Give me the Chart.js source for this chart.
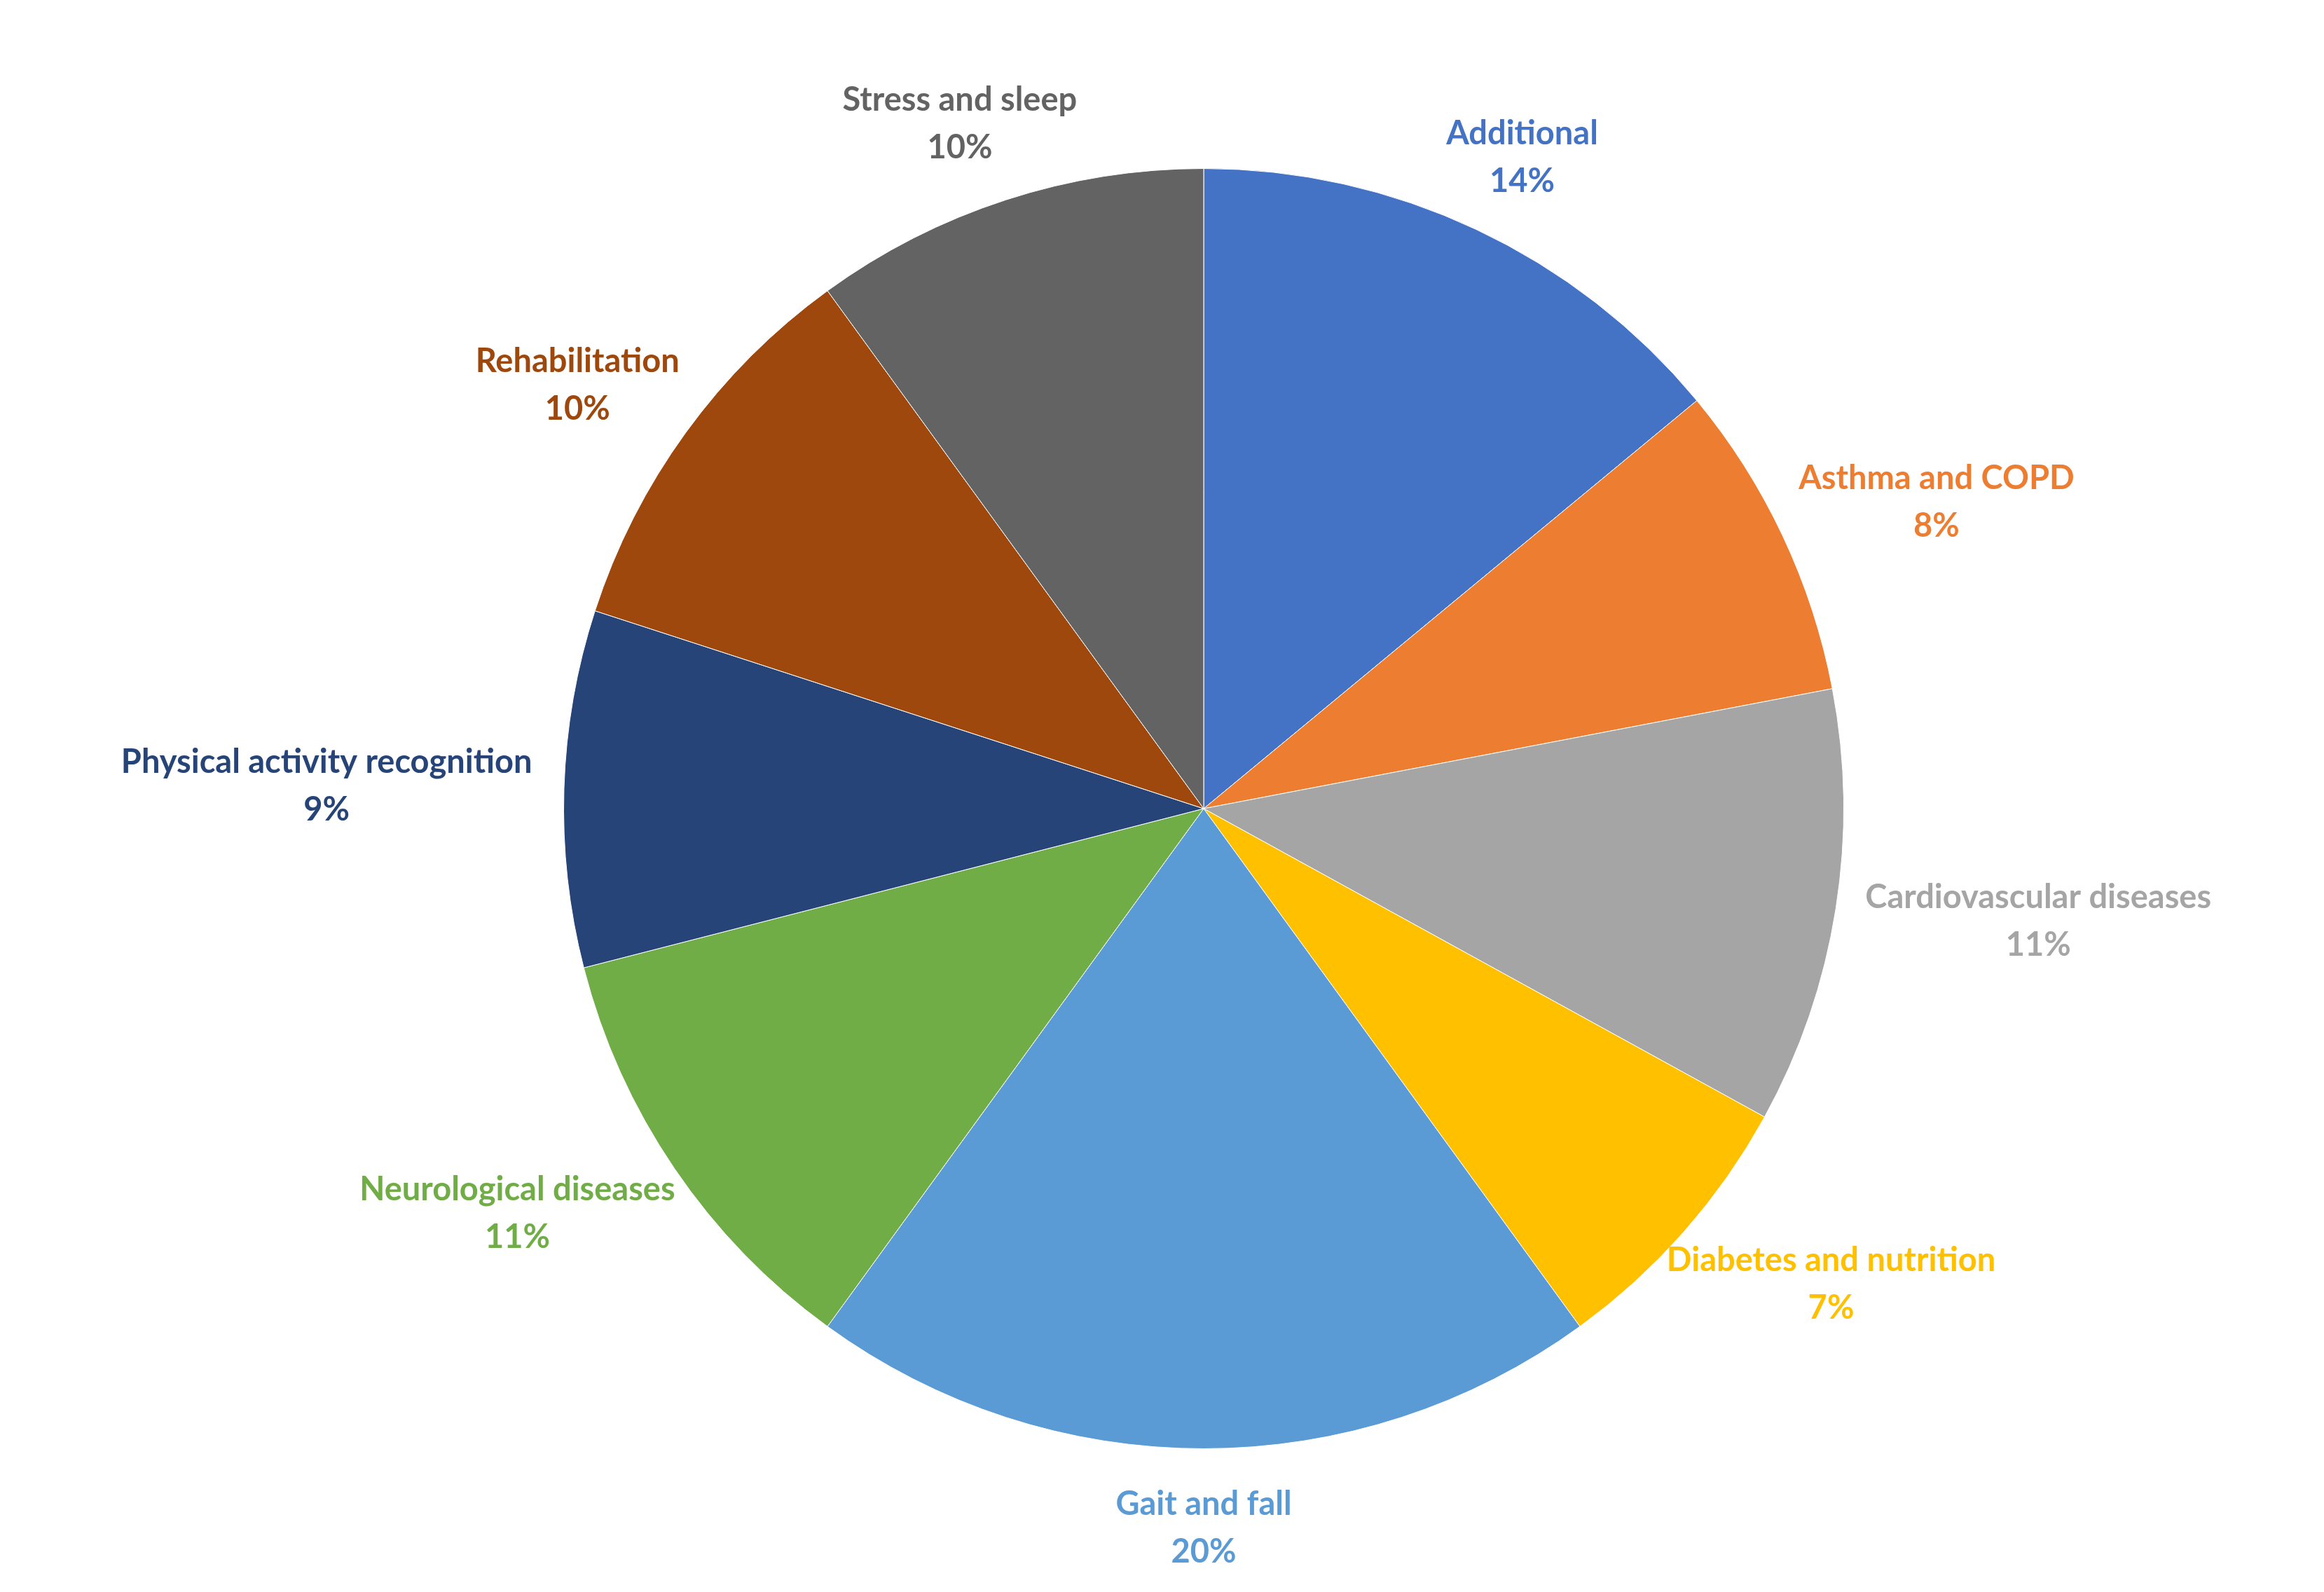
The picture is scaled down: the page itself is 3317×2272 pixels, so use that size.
<!DOCTYPE html>
<html>
<head>
<meta charset="utf-8">
<script src="https://cdn.jsdelivr.net/npm/chart.js@4"></script>
<style>
  html, body { margin: 0; padding: 0; background: #fff; }
  canvas { display: block; }
</style>
</head>
<body>
<canvas id="pie" width="3317" height="2272"></canvas>
<script>
const categories = ['Additional', 'Asthma and COPD', 'Cardiovascular diseases', 'Diabetes and nutrition',
  'Gait and fall', 'Neurological diseases', 'Physical activity recognition', 'Rehabilitation', 'Stress and sleep'];
const shares = [14, 8, 11, 7, 20, 11, 9, 10, 10];
const colors = ['#4472C4', '#ED7D31', '#A5A5A5', '#FFC000', '#5B9BD5', '#70AD47', '#264478', '#9E480E', '#636363'];

// draws "name / pct%" outside each slice, in the slice colour
const outsideLabels = {
  id: 'outsideLabels',
  afterDatasetsDraw(chart) {
    const ctx = chart.ctx;
    const arcs = chart.getDatasetMeta(0).data;
    ctx.save();
    ctx.font = 'bold 47px Lato, "Open Sans", sans-serif';
    ctx.textAlign = 'center';
    ctx.textBaseline = 'middle';
    const lineH = 68;
    arcs.forEach((arc, i) => {
      const mid = (arc.startAngle + arc.endAngle) / 2;
      const cos = Math.cos(mid), sin = Math.sin(mid);
      const r = arc.outerRadius * 1.05;
      const lines = [categories[i], shares[i] + '%'];
      const w = Math.max(...lines.map(t => ctx.measureText(t).width));
      const h = lineH * 2;
      const cx = arc.x + r * cos + cos * w / 2;
      const cy = arc.y + r * sin + sin * h / 2;
      ctx.fillStyle = colors[i];
      ctx.fillText(lines[0], cx, cy - lineH / 2);
      ctx.fillText(lines[1], cx, cy + lineH / 2);
    });
    ctx.restore();
  }
};

new Chart(document.getElementById('pie'), {
  type: 'pie',
  data: {
    labels: categories,
    datasets: [{
      data: shares,
      backgroundColor: colors,
      borderColor: '#ffffff',
      borderWidth: 1
    }]
  },
  options: {
    responsive: false,
    animation: false,
    layout: { padding: { top: 240, bottom: 204, left: 804, right: 685 } },
    plugins: { legend: { display: false }, tooltip: { enabled: false } }
  },
  plugins: [outsideLabels]
});
</script>
</body>
</html>
